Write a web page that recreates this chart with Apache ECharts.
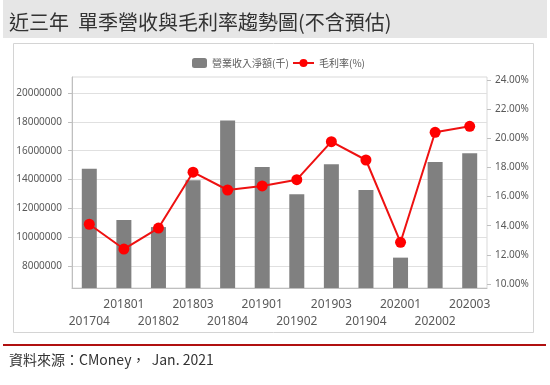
<!DOCTYPE html>
<html>
<head>
<meta charset="utf-8">
<script src="https://cdn.jsdelivr.net/npm/echarts@6/dist/echarts.min.js"></script>
<style>
html,body{margin:0;padding:0;background:#fff;}
#chart{width:550px;height:385px;}
</style>
</head>
<body>
<div id="chart"></div>
<script>
var categories = ['201704','201801','201802','201803','201804','201901','201902','201903','201904','202001','202002','202003'];
var revenue = [14750000, 11190000, 10700000, 13940000, 18100000, 14870000, 12970000, 15050000, 13270000, 8580000, 15210000, 15820000];
var grossMargin = [14.10, 12.40, 13.84, 17.67, 16.45, 16.73, 17.16, 19.77, 18.51, 12.86, 20.41, 20.82];
var leftTicks = [8000000, 10000000, 12000000, 14000000, 16000000, 18000000, 20000000];
var rightTicks = [10, 12, 14, 16, 18, 20, 22, 24];
var titleText = '近三年  單季營收與毛利率趨勢圖(不含預估)';
var sourceText = '資料來源：CMoney，  Jan. 2021';
var barName = '營業收入淨額(千)';
var lineName = '毛利率(%)';

var latin = '"Noto Sans", "Noto Sans CJK TC", sans-serif';
var cjk = '"Noto Sans CJK TC", "Noto Sans", sans-serif';
var chart = echarts.init(document.getElementById('chart'));
chart.setOption({
  animation: false,
  backgroundColor: '#ffffff',
  graphic: [
    {type: 'rect', shape: {x: 3, y: 0, width: 544, height: 38}, style: {fill: '#e6e6e6'}, z: -10},
    {type: 'rect', shape: {x: 13.5, y: 43.5, width: 520, height: 289}, style: {fill: 'none', stroke: '#d4d4d4', lineWidth: 1}, z: -5},
    {type: 'rect', shape: {x: 3, y: 344, width: 543, height: 2}, style: {fill: '#b01010'}, z: -5}
  ],
  title: [
    {text: titleText, left: 4, top: 7, textStyle: {fontFamily: cjk, fontSize: 20, fontWeight: 'normal', color: '#333333'}},
    {text: sourceText, left: 4, top: 348, textStyle: {fontFamily: cjk, fontSize: 14, fontWeight: 'normal', color: '#333333'}}
  ],
  legend: [
    {data: [barName], left: 187, top: 53, itemWidth: 15, itemHeight: 10, itemGap: 5,
     textStyle: {fontFamily: cjk, fontSize: 10, color: '#595959'}},
    {data: [lineName], left: 287, top: 53, itemWidth: 21, itemHeight: 10,
     textStyle: {fontFamily: cjk, fontSize: 10, color: '#595959'}}
  ],
  grid: {left: 72, right: 63, top: 77, bottom: 97, show: true, borderColor: '#d9d9d9', borderWidth: 1, containLabel: false},
  xAxis: {
    type: 'category', data: categories, boundaryGap: true,
    axisLine: {lineStyle: {color: '#bfbfbf'}},
    axisTick: {alignWithLabel: true, length: 4, lineStyle: {color: '#bfbfbf'}},
    axisLabel: {
      interval: 0, margin: 8, fontFamily: latin, fontSize: 12, color: '#595959', lineHeight: 17,
      formatter: function (v, i) { return i % 2 === 0 ? '\n' + v : v; }
    }
  },
  yAxis: [
    {
      type: 'value', min: 6474000, max: 21110000, position: 'left',
      axisLine: {show: true, lineStyle: {color: '#bfbfbf'}},
      axisTick: {show: true, length: 4, lineStyle: {color: '#bfbfbf'}, customValues: leftTicks},
      axisLabel: {customValues: leftTicks, margin: 10, fontFamily: latin, fontSize: 10, color: '#595959',
        formatter: function (v) { return String(v); }},
      splitLine: {show: true, lineStyle: {color: '#e0e0e0'}}
    },
    {
      type: 'value', min: 9.725, max: 24.206, position: 'right',
      axisLine: {show: false},
      axisTick: {show: true, length: 4, lineStyle: {color: '#bfbfbf'}, customValues: rightTicks},
      axisLabel: {customValues: rightTicks, margin: 8, fontFamily: latin, fontSize: 10, color: '#595959',
        formatter: function (v) { return v.toFixed(2) + '%'; }},
      splitLine: {show: false}
    }
  ],
  series: [
    {name: barName, type: 'bar', data: revenue, yAxisIndex: 0, barWidth: 15,
     itemStyle: {color: '#808080'}},
    {name: lineName, type: 'line', data: grossMargin, yAxisIndex: 1,
     symbol: 'circle', symbolSize: 11,
     lineStyle: {color: '#ee1111', width: 2}, itemStyle: {color: '#ff0000'}}
  ]
});
</script>
</body>
</html>
